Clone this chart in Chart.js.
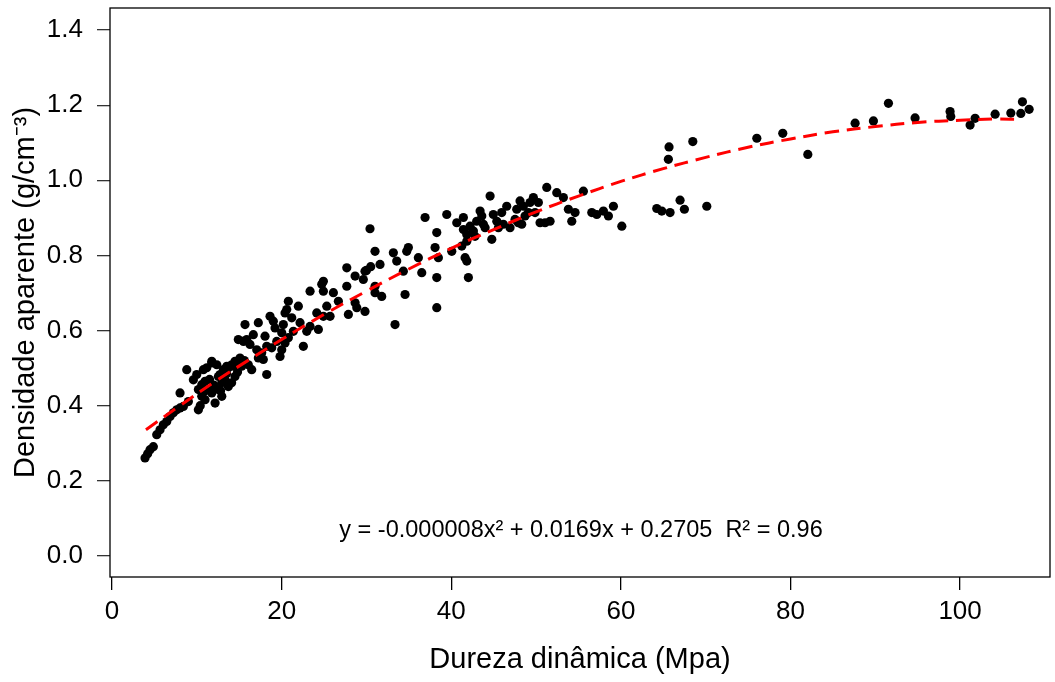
<!DOCTYPE html>
<html>
<head>
<meta charset="utf-8">
<script src="https://cdn.jsdelivr.net/npm/chart.js@4"></script>
<style>
  html, body { margin: 0; padding: 0; background: #ffffff; }
  #c { display: block; }
</style>
</head>
<body>
<canvas id="c" width="1055" height="682"></canvas>
<script>
// Dureza dinâmica (Mpa) of each sample
const durezaValues = [
  3.89, 4.2, 4.48, 4.87, 5.27, 5.66, 6.05, 6.45, 6.84, 7.23, 7.63, 8.02, 8.41, 9.0, 8.02, 8.81,
  10.18, 9.59, 9.99, 10.18, 10.58, 10.97, 10.77, 11.17, 11.76, 12.35, 12.15, 12.54, 12.94, 13.33,
  13.13, 13.71, 14.3, 14.7, 15.29, 11.36, 11.76, 10.58, 10.97, 12.94, 13.71, 14.1, 14.5, 12.54,
  11.5, 12.0, 12.8, 13.5, 11.0, 14.8, 15.6, 10.4,
  11.76, 12.74, 13.53, 14.12, 14.5, 15.09, 15.48, 16.07, 16.47, 18.24, 17.25, 17.65, 17.06, 16.27,
  15.88, 14.89, 15.68, 16.66, 17.25, 18.04, 18.63, 19.02, 19.22, 19.42, 18.83, 19.81, 20.01, 20.4,
  20.79, 20.01, 20.2, 20.4, 20.79, 20.6, 21.19, 21.97, 21.38, 22.17, 22.56, 22.96, 23.35, 23.35,
  24.33, 24.14, 24.73, 24.92, 25.32, 24.92, 18.24, 17.84, 15.5,
  25.71, 26.1, 24.92, 26.69, 27.68, 27.68, 27.87, 28.66, 28.66, 28.86, 29.63, 29.83, 30.0, 30.5,
  30.42, 31.01, 31.01, 31.01, 31.6, 31.8, 33.17, 33.37, 33.57, 34.35, 34.55, 34.75, 34.94, 36.12,
  36.52, 36.91, 38.09, 38.29, 38.48, 38.29, 38.29, 39.47, 40.06, 40.65, 41.24, 41.43, 41.43, 41.83,
  41.63, 41.83, 42.02, 29.83,
  42.22, 42.61, 43.0, 43.4, 43.6, 43.79, 44.58, 44.78, 44.96, 45.37, 45.95, 46.14, 46.54, 46.93,
  47.52, 47.72, 48.11, 48.31, 48.5, 48.7, 49.09, 49.29, 49.68, 49.88, 50.27, 50.47, 51.06, 51.65,
  51.26, 52.44, 53.22, 53.81, 54.21, 54.6, 55.58, 56.57, 57.16, 57.94, 58.53, 59.12, 60.11,
  41.83, 42.8, 43.99, 45.56, 47.9,
  64.23, 64.82, 65.8, 66.98, 67.49, 70.13, 65.6, 65.68, 68.48, 76.03, 79.09, 82.04, 87.62, 89.78,
  91.55, 94.69, 98.82, 98.9, 101.18, 101.77, 104.13, 105.98, 107.16, 107.35, 108.14
];
// Densidade aparente (g/cm-3) of each sample
const densidadeValues = [
  0.261, 0.272, 0.283, 0.291, 0.323, 0.336, 0.349, 0.358, 0.371, 0.381, 0.389, 0.394, 0.398, 0.411, 0.434, 0.496,
  0.389, 0.469, 0.483, 0.443, 0.456, 0.465, 0.496, 0.501, 0.514, 0.509, 0.407, 0.443, 0.461, 0.469,
  0.496, 0.501, 0.505, 0.514, 0.505, 0.443, 0.434, 0.425, 0.416, 0.425, 0.451, 0.461, 0.478, 0.478,
  0.47, 0.455, 0.44, 0.485, 0.44, 0.49, 0.52, 0.40,
  0.518, 0.483, 0.505, 0.509, 0.518, 0.527, 0.518, 0.509, 0.496, 0.483, 0.527, 0.541, 0.549, 0.563,
  0.576, 0.576, 0.616, 0.589, 0.621, 0.585, 0.638, 0.625, 0.607, 0.571, 0.554, 0.531, 0.549, 0.567,
  0.581, 0.594, 0.616, 0.647, 0.678, 0.656, 0.634, 0.665, 0.598, 0.621, 0.558, 0.598, 0.611, 0.705,
  0.603, 0.647, 0.723, 0.705, 0.665, 0.638, 0.558, 0.523, 0.571,
  0.638, 0.701, 0.731, 0.678, 0.767, 0.718, 0.643, 0.745, 0.674, 0.661, 0.736, 0.651, 0.76, 0.77,
  0.871, 0.718, 0.701, 0.811, 0.776, 0.691, 0.807, 0.616, 0.785, 0.758, 0.696, 0.811, 0.821, 0.794,
  0.754, 0.901, 0.821, 0.861, 0.794, 0.741, 0.661, 0.909, 0.811, 0.887, 0.825, 0.901, 0.869, 0.838,
  0.794, 0.785, 0.741, 0.758,
  0.878, 0.865, 0.891, 0.918, 0.905, 0.883, 0.958, 0.843, 0.909, 0.891, 0.914, 0.883, 0.931, 0.874,
  0.896, 0.923, 0.945, 0.883, 0.931, 0.905, 0.914, 0.941, 0.954, 0.914, 0.941, 0.887, 0.887, 0.891,
  0.981, 0.967, 0.954, 0.923, 0.891, 0.914, 0.971, 0.914, 0.909, 0.918, 0.905, 0.931, 0.878,
  0.856, 0.851, 0.874, 0.874, 0.887,
  0.925, 0.918, 0.914, 0.947, 0.923, 0.931, 1.056, 1.089, 1.103, 1.112, 1.125, 1.069, 1.152, 1.158,
  1.205, 1.166, 1.183, 1.17, 1.147, 1.165, 1.176, 1.179, 1.178, 1.209, 1.189
];
// Fitted trend curve
const trendX = [4, 8, 12, 16, 20, 25, 30, 35, 40, 45, 50, 55, 60, 65, 70, 75, 80, 85, 90, 95, 100, 104, 107];
const trendY = [0.336, 0.400, 0.462, 0.520, 0.576, 0.643, 0.705, 0.764, 0.819, 0.869, 0.916, 0.958, 0.997,
                1.031, 1.061, 1.088, 1.110, 1.129, 1.143, 1.154, 1.160, 1.163, 1.162];
const xTicks = [0, 20, 40, 60, 80, 100];
const yTicks = [0.0, 0.2, 0.4, 0.6, 0.8, 1.0, 1.2, 1.4];
const xTitle = 'Dureza dinâmica (Mpa)';
const yTitle = 'Densidade aparente (g/cm\u207B\u00B3)';
const equationText = 'y = -0.000008x\u00B2 + 0.0169x + 0.2705  R\u00B2 = 0.96';

const FONT = "'Liberation Sans', Arial, sans-serif";

const points = durezaValues.map((x, i) => ({ x: x, y: densidadeValues[i] }));
const trend = trendX.map((x, i) => ({ x: x, y: trendY[i] }));

const boxPlugin = {
  id: 'boxPlugin',
  afterDraw(chart) {
    const { ctx, chartArea: a, scales } = chart;
    ctx.save();
    ctx.strokeStyle = '#000';
    ctx.lineWidth = 1.3;
    ctx.strokeRect(a.left, a.top, a.right - a.left, a.bottom - a.top);
    ctx.fillStyle = '#000';
    ctx.font = '23.5px ' + FONT;
    ctx.textAlign = 'center';
    ctx.textBaseline = 'alphabetic';
    ctx.fillText(equationText, scales.x.getPixelForValue(55.3), scales.y.getPixelForValue(0.05));
    ctx.restore();
  }
};

new Chart(document.getElementById('c'), {
  type: 'scatter',
  data: {
    datasets: [
      {
        type: 'line',
        data: trend,
        borderColor: '#ff0000',
        borderWidth: 3,
        borderDash: [14, 8],
        pointRadius: 0,
        tension: 0.4,
        fill: false,
        order: 0
      },
      {
        data: points,
        backgroundColor: '#000',
        borderColor: '#000',
        borderWidth: 0,
        pointRadius: 4.6,
        order: 1
      }
    ]
  },
  options: {
    responsive: false,
    animation: false,
    devicePixelRatio: 1,
    layout: { padding: { top: 8, right: 5, left: 0, bottom: 0 } },
    plugins: { legend: { display: false }, tooltip: { enabled: false } },
    scales: {
      x: {
        type: 'linear',
        min: -0.24,
        max: 110.6,
        afterBuildTicks: s => { s.ticks = xTicks.map(v => ({ value: v })); },
        afterFit: s => { s.height = 105; s.paddingLeft = 0; s.paddingRight = 0; },
        border: { display: false },
        grid: { drawOnChartArea: false, drawTicks: true, tickLength: 13, color: '#000', tickColor: '#000', lineWidth: 1.3 },
        ticks: { font: { family: FONT, size: 26 }, color: '#000', padding: 6, maxRotation: 0, autoSkip: false,
                 callback: v => String(v) },
        title: { display: true, text: xTitle, color: '#000', font: { family: FONT, size: 29 }, padding: { top: 0, bottom: 5 } }
      },
      y: {
        type: 'linear',
        min: -0.056,
        max: 1.4587,
        afterBuildTicks: s => { s.ticks = yTicks.map(v => ({ value: v })); },
        afterFit: s => { s.width = 110; s.paddingTop = 0; s.paddingBottom = 0; },
        border: { display: false },
        grid: { drawOnChartArea: false, drawTicks: true, tickLength: 13, color: '#333', tickColor: '#333', lineWidth: 1.3 },
        ticks: { font: { family: FONT, size: 26 }, color: '#000', padding: 14, autoSkip: false,
                 callback: v => Number(v).toFixed(1) },
        title: { display: true, text: yTitle, color: '#000', font: { family: FONT, size: 29 }, padding: { top: 9, bottom: 0 } }
      }
    }
  },
  plugins: [boxPlugin]
});
</script>
</body>
</html>
